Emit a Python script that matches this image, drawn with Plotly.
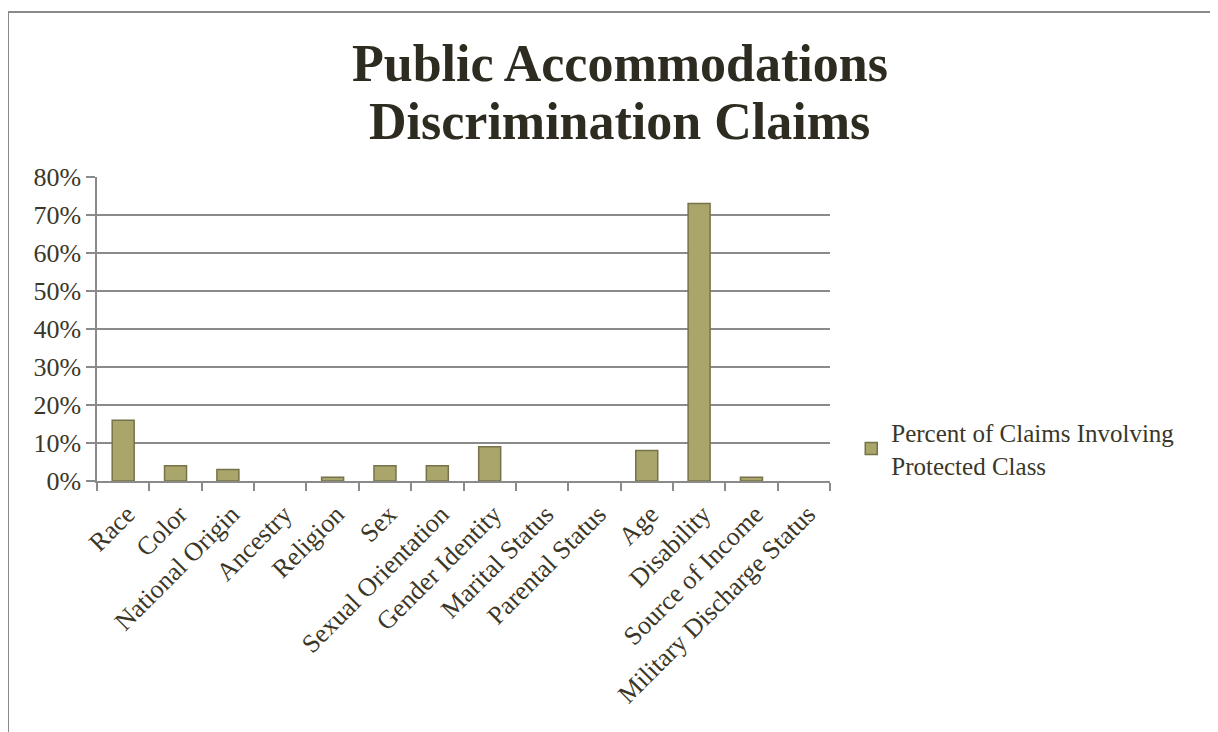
import plotly.graph_objects as go

categories = ["Race", "Color", "National Origin", "Ancestry", "Religion", "Sex",
              "Sexual Orientation", "Gender Identity", "Marital Status",
              "Parental Status", "Age", "Disability", "Source of Income",
              "Military Discharge Status"]
values = [0.16, 0.04, 0.03, 0.0, 0.01, 0.04, 0.04, 0.09, 0.0, 0.0, 0.08, 0.73, 0.01, 0.0]
series_name = "Percent of Claims Involving<br>Protected Class"
title_lines = ["Public Accommodations", "Discrimination Claims"]

font_family = "Liberation Serif, DejaVu Serif, serif"
text_color = "#3b3728"
axis_gray = "#8a8a8a"

fig = go.Figure()
fig.add_trace(go.Bar(
    x=categories, y=values, name=series_name,
    marker=dict(color="#a9a56b",
                line=dict(color="#76734a", width=[1.5 if v > 0 else 0 for v in values])),
    showlegend=True,
))

annotations = []
for line, ypos in zip(title_lines, [1.375, 1.181]):
    annotations.append(dict(text="<b>%s</b>" % line, xref="paper", yref="paper",
                            x=0.7135, y=ypos, xanchor="center", yanchor="middle",
                            showarrow=False,
                            font=dict(size=52, family=font_family, color="#2e2b20")))

fig.update_layout(
    width=1218, height=732,
    paper_bgcolor="white", plot_bgcolor="white",
    margin=dict(l=89, r=396, t=169, b=259),
    bargap=0.58,
    font=dict(family=font_family, color=text_color, size=25),
    annotations=annotations,
    legend=dict(x=1.029, xanchor="left", y=0.235, yanchor="top",
                font=dict(size=25, family=font_family, color=text_color),
                bgcolor="rgba(0,0,0,0)"),
    shapes=[dict(type="rect", xref="paper", yref="paper",
                 x0=-0.1214, x1=2.0, y0=-2.0, y1=1.543,
                 line=dict(color=axis_gray, width=2))],
)

fig.update_xaxes(
    type="category", tickangle=-45, tickson="boundaries",
    ticks="outside", ticklen=8, tickcolor=axis_gray, tickwidth=1.5,
    ticklabelshift=4, ticklabelstandoff=6,
    showline=True, linecolor=axis_gray, linewidth=1.5,
    showgrid=False, tickfont=dict(size=26, family=font_family, color=text_color),
)
fig.update_yaxes(
    range=[0, 0.8], dtick=0.1, tickformat=".0%",
    ticks="outside", ticklen=9, tickcolor=axis_gray, tickwidth=1.5,
    showline=True, linecolor=axis_gray, linewidth=1.5,
    showgrid=True, gridcolor=axis_gray, gridwidth=1.5,
    zeroline=False, tickfont=dict(size=26, family=font_family, color=text_color),
)

fig.write_html("out.html")
